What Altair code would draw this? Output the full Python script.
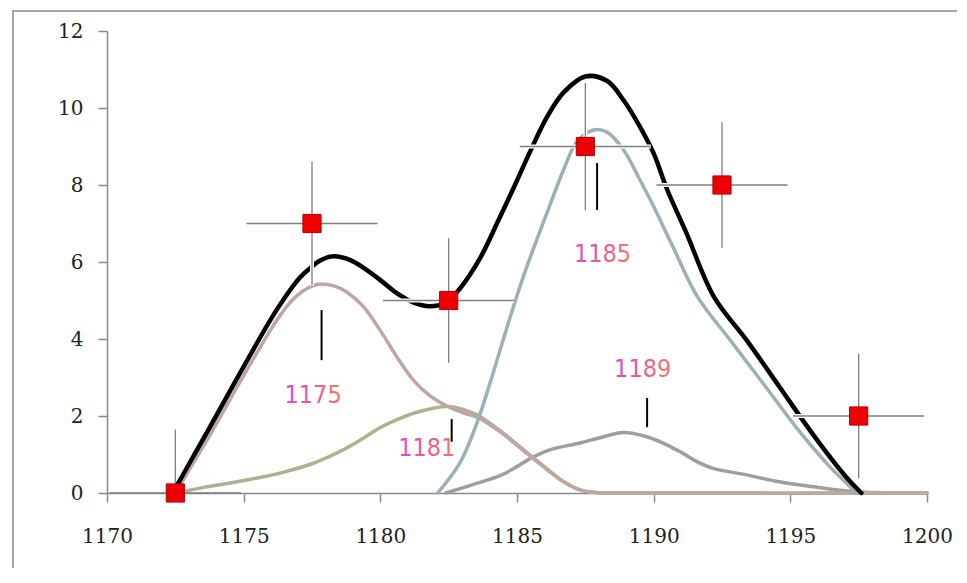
import altair as alt
import pandas as pd

# ---------------- data ----------------
x_ticks = [1170, 1175, 1180, 1185, 1190, 1195, 1200]
y_ticks = [0, 2, 4, 6, 8, 10, 12]

# measured points with error bars
pts_x = [1172.5, 1177.5, 1182.5, 1187.5, 1192.5, 1197.5]
pts_y = [0, 7, 5, 9, 8, 2]
x_err = [2.4, 2.4, 2.4, 2.4, 2.4, 2.4]
y_err = [1.65, 1.62, 1.62, 1.65, 1.63, 1.62]

# total fit (black)
black_x = [1172.4, 1172.8, 1173.77, 1175.0, 1176.2, 1177.06, 1177.43, 1177.8, 1178.3,
           1178.9, 1179.4, 1180.0, 1180.6, 1181.2, 1181.8, 1182.4, 1182.9, 1183.65,
           1184.3, 1184.9, 1185.5, 1186.1, 1186.7, 1187.5, 1188.3, 1188.9, 1189.5,
           1190.0, 1190.5, 1191.2, 1192.2, 1193.4, 1194.6, 1195.8, 1197.0, 1197.6]
black_y = [0, 0.5, 1.72, 3.28, 4.75, 5.6, 5.84, 6.04, 6.15,
           6.05, 5.84, 5.53, 5.19, 4.95, 4.85, 4.95, 5.3, 6.1,
           7.05, 7.96, 8.9, 9.77, 10.4, 10.82, 10.7, 10.2, 9.51,
           8.82, 7.87, 6.75, 5.1, 3.97, 2.76, 1.55, 0.45, 0]

# component 1175 (rosy brown)
brown_x = [1172.5, 1173.8, 1175.0, 1176.3, 1176.94, 1177.7, 1178.3, 1178.77, 1179.38,
           1179.99, 1180.6, 1181.2, 1181.82, 1182.43, 1183.04, 1183.6, 1184.38, 1185.36,
           1186.2, 1186.7, 1187.3, 1187.9, 1189.0, 1200.0]
brown_y = [0, 1.55, 3.05, 4.58, 5.12, 5.42, 5.38, 5.22, 4.84,
           4.23, 3.54, 2.94, 2.52, 2.26, 2.08, 1.95, 1.59, 1.03,
           0.55, 0.29, 0.08, 0.01, 0, 0]

# component 1181 (olive)
olive_x = [1172.5, 1173.5, 1174.5, 1175.5, 1176.5, 1177.5, 1178.5, 1179.3, 1180.0,
           1180.7, 1181.3, 1181.94, 1182.5, 1183.0, 1183.53, 1184.38, 1185.36, 1186.2,
           1186.7, 1187.3, 1187.9, 1189.0, 1200.0]
olive_y = [0, 0.14, 0.26, 0.39, 0.55, 0.76, 1.07, 1.39, 1.7,
           1.93, 2.09, 2.2, 2.25, 2.18, 2.03, 1.62, 1.05, 0.57,
           0.3, 0.08, 0.01, 0, 0]

# component 1185 (blue grey)
blue_x = [1182.1, 1182.9, 1183.53, 1184.01, 1184.38, 1184.87, 1185.36, 1186.09, 1186.7,
          1187.19, 1187.8, 1188.28, 1188.9, 1189.5, 1190.0, 1190.7, 1191.6, 1192.8,
          1194.0, 1195.2, 1196.45, 1197.06, 1197.4]
blue_y = [0, 0.77, 1.81, 2.85, 3.71, 4.84, 5.88, 7.26, 8.39,
          9.12, 9.43, 9.38, 8.91, 8.13, 7.44, 6.4, 5.1, 3.97,
          2.85, 1.72, 0.68, 0.25, 0]

# component 1189 (grey)
grey_x = [1182.4, 1183.3, 1184.38, 1184.87, 1185.5, 1186.2, 1187.3, 1188.1, 1188.9,
          1189.75, 1190.36, 1190.97, 1191.6, 1192.18, 1193.4, 1194.6, 1195.84, 1197.06,
          1198.0, 1199.0, 1200.0]
grey_y = [0, 0.2, 0.45, 0.63, 0.9, 1.12, 1.3, 1.45, 1.57,
          1.46, 1.29, 1.07, 0.81, 0.64, 0.47, 0.29, 0.16, 0.05,
          0.01, 0, 0]

# peak labels and their marker lines
label_text = ["1175", "1181", "1185", "1189"]
label_x = [1177.54, 1181.7, 1188.13, 1189.6]
label_y = [2.55, 1.17, 6.22, 3.22]
tick_x = [1177.85, 1182.61, 1187.93, 1189.76]
tick_lo = [3.45, 1.33, 7.35, 1.71]
tick_hi = [4.75, 1.92, 8.57, 2.47]

# ---------------- scales / axes ----------------
xs = alt.Scale(domain=[1170, 1200], nice=False, zero=False)
ys = alt.Scale(domain=[0, 12], nice=False, zero=False)
AX = "#8a8a8a"
xaxis = alt.Axis(values=x_ticks, title=None, grid=False, tickSize=9, tickColor=AX,
                 tickWidth=1.5, domainColor=AX, domainWidth=1.5,
                 labelFont="DejaVu Serif", labelFontSize=20, labelColor="#222222",
                 labelPadding=24, labelFlush=False, labelOverlap=False, format="d")
yaxis = alt.Axis(values=y_ticks, title=None, grid=False, tickSize=9, tickColor=AX,
                 tickWidth=1.5, domainColor=AX, domainWidth=1.5,
                 labelFont="DejaVu Serif", labelFontSize=20, labelColor="#222222",
                 labelPadding=15, labelFlush=False, labelOverlap=False, format="d")


def X(f):
    return alt.X(f, type="quantitative", scale=xs, axis=xaxis, title=None)


def Y(f):
    return alt.Y(f, type="quantitative", scale=ys, axis=yaxis, title=None)


# ---------------- layers ----------------
frame = alt.Chart(pd.DataFrame({"k": [0]})).mark_rect(
    fill="white", fillOpacity=0, stroke="#a6a6a6", strokeWidth=2
).encode(x=alt.value(-94), x2=alt.value(880), y=alt.value(-20), y2=alt.value(620))


def curve(xv, yv, color, width):
    return alt.Chart(pd.DataFrame({"x": xv, "y": yv})).mark_line(
        color=color, strokeWidth=width, interpolate="catmull-rom", strokeCap="round",
        strokeJoin="round"
    ).encode(x=X("x"), y=Y("y"))


grey_l = curve(grey_x, grey_y, "#9e9e9e", 3.5)
olive_l = curve(olive_x, olive_y, "#b3ae8e", 3.5)
brown_l = curve(brown_x, brown_y, "#bfa6a3", 3.5)
blue_l = curve(blue_x, blue_y, "#9ab1b7", 3.5)
black_l = curve(black_x, black_y, "#000000", 4.5)

pts = pd.DataFrame({"x": pts_x, "y": pts_y, "xe": x_err, "ye": y_err})
pts["xlo"] = pts["x"] - pts["xe"]
pts["xhi"] = pts["x"] + pts["xe"]
pts["ylo"] = (pts["y"] - pts["ye"]).clip(lower=0)
pts["yhi"] = pts["y"] + pts["ye"]

base = alt.Chart(pts)
h_halo = base.transform_filter("datum.y > 0").mark_rule(color="white", strokeWidth=4).encode(
    x=X("xlo"), x2="xhi", y=Y("y"))
v_halo = base.transform_filter("datum.y > 0").mark_rule(color="white", strokeWidth=4).encode(
    x=X("x"), y=Y("ylo"), y2="yhi")
h_bar = base.mark_rule(color="#7f7f7f", strokeWidth=1.3).encode(x=X("xlo"), x2="xhi", y=Y("y"))
v_bar = base.mark_rule(color="#7f7f7f", strokeWidth=1.3).encode(x=X("x"), y=Y("ylo"), y2="yhi")
squares = base.mark_square(size=330, color="#ee0000", stroke="#b00000", strokeWidth=1,
                           opacity=1, filled=True).encode(x=X("x"), y=Y("y"))

lab = pd.DataFrame({"t": label_text, "x": label_x, "y": label_y,
                    "tx": tick_x, "lo": tick_lo, "hi": tick_hi})
lab_ticks = alt.Chart(lab).mark_rule(color="#000000", strokeWidth=2).encode(
    x=X("tx"), y=Y("lo"), y2="hi")
grad = alt.LinearGradient(
    gradient="linear",
    stops=[alt.GradientStop(color="#d94ed2", offset=0),
           alt.GradientStop(color="#e65a9a", offset=0.45),
           alt.GradientStop(color="#f07a66", offset=1)],
    x1=0, x2=1, y1=0, y2=0)
lab_text = alt.Chart(lab).mark_text(
    font="'Liberation Sans Narrow', 'DejaVu Sans Condensed', 'Arial Narrow', sans-serif",
    fontSize=25, align="center", baseline="middle", color=grad
).encode(x=X("x"), y=Y("y"), text="t:N")

chart = alt.layer(
    frame, grey_l, olive_l, brown_l, blue_l, black_l,
    h_halo, v_halo, h_bar, v_bar, squares, lab_ticks, lab_text
).properties(
    width=820, height=462,
    autosize=alt.AutoSizeParams(type="none"),
    padding={"left": 99, "top": 23, "right": 30, "bottom": 75},
    background="white",
).configure_view(stroke=None)

chart.save("out.html", embed_options={"renderer": "svg", "actions": False})
